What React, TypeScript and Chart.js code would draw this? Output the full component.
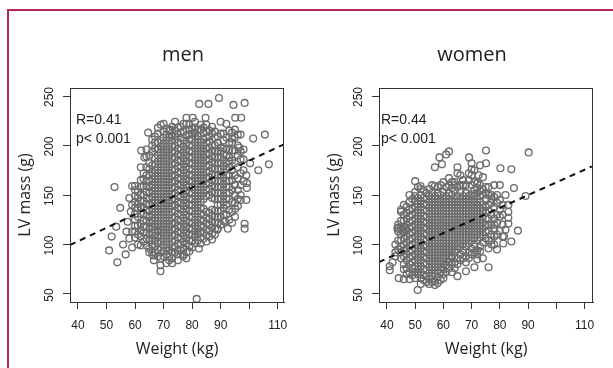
import React, { useEffect, useRef } from "react";
import { Chart, registerables } from "chart.js";
Chart.register(...registerables);

// ---- data ----
const xTicks = [40, 50, 60, 70, 80, 90, 100, 110];
const yTicks = [50, 100, 150, 200, 250];
const xTickHidden = [100];

// each row: weight (kg) followed by LV masses (g) observed at that weight
const menRows: number[][] = [
  [60, 107, 113, 125, 131, 137, 155, 159],
  [61, 100, 119, 128, 137, 141],
  [62, 108, 114, 121, 131, 138, 158],
  [63, 112, 118, 124, 131, 137, 144, 150, 159],
  [64, 106, 112, 118, 124, 129, 135, 141, 147, 153, 159, 164, 170, 189],
  [65, 96, 104, 110, 116, 122, 128, 134, 140, 146, 152, 158, 164, 170, 182],
  [66, 92, 100, 106, 112, 118, 124, 130, 136, 142, 148, 154, 160, 166, 172, 180, 200],
  [67, 98, 104, 109, 115, 121, 127, 133, 139, 145, 151, 157, 163, 169, 175, 181, 187, 197],
  [68, 95, 101, 107, 113, 118, 124, 130, 136, 142, 148, 154, 160, 166, 172, 178, 184, 190, 196, 203, 212],
  [69, 86, 97, 103, 109, 115, 121, 127, 133, 139, 145, 151, 157, 163, 169, 175, 181, 187, 193, 199, 205],
  [70, 93, 100, 106, 112, 118, 124, 130, 136, 142, 148, 154, 160, 166, 172, 178, 184, 190, 196, 202, 208],
  [71, 90, 97, 103, 109, 115, 121, 127, 133, 139, 145, 151, 157, 163, 169, 175, 181, 187, 193, 199, 205, 211],
  [72, 94, 100, 106, 112, 118, 124, 130, 136, 142, 148, 154, 160, 166, 172, 178, 184, 190, 196, 202, 208, 215],
  [73, 92, 97, 103, 109, 115, 121, 127, 133, 139, 145, 151, 157, 163, 169, 175, 181, 187, 193, 199, 205, 210],
  [74, 98, 104, 110, 116, 122, 128, 134, 140, 146, 152, 158, 164, 170, 176, 182, 188, 194, 200, 206, 215],
  [75, 94, 101, 107, 113, 119, 125, 131, 137, 143, 149, 155, 161, 167, 173, 179, 185, 191, 197, 203, 212],
  [76, 100, 106, 112, 118, 124, 130, 136, 142, 148, 154, 160, 166, 172, 178, 184, 190, 196, 202, 208, 219],
  [77, 96, 103, 109, 115, 121, 127, 133, 139, 145, 151, 157, 163, 169, 175, 181, 187, 193, 199, 205, 214],
  [78, 92, 101, 106, 112, 118, 124, 130, 136, 142, 148, 154, 160, 166, 172, 178, 184, 190, 196, 202, 210, 222],
  [79, 98, 104, 110, 116, 122, 128, 134, 140, 146, 152, 158, 164, 170, 176, 182, 188, 194, 200, 206, 216],
  [80, 104, 110, 116, 122, 128, 134, 140, 146, 152, 158, 164, 170, 176, 182, 188, 194, 200, 206, 212],
  [81, 108, 113, 119, 125, 131, 137, 143, 149, 155, 161, 167, 173, 179, 185, 191, 197, 203, 209, 218],
  [82, 111, 116, 122, 128, 134, 140, 146, 152, 158, 164, 170, 176, 182, 188, 194, 200, 206, 210],
  [83, 107, 113, 119, 125, 131, 137, 143, 149, 155, 161, 167, 173, 179, 185, 191, 197, 203, 216],
  [84, 112, 118, 124, 130, 136, 146, 152, 158, 164, 170, 176, 182, 188, 194, 200, 206, 213],
  [85, 109, 115, 121, 127, 133, 149, 155, 161, 167, 173, 179, 185, 191, 197, 203, 208, 221],
  [86, 114, 120, 126, 132, 150, 156, 162, 168, 174, 180, 186, 192, 198, 204],
  [87, 111, 117, 123, 129, 135, 147, 153, 159, 165, 171, 177, 183, 189, 195, 200, 212],
  [88, 116, 122, 128, 134, 146, 152, 158, 164, 170, 176, 182, 188, 194, 200],
  [89, 122, 128, 134, 140, 146, 152, 158, 164, 170, 176, 182, 188, 194, 203],
  [90, 128, 134, 140, 146, 152, 158, 164, 170, 176, 182, 188, 194, 198],
  [91, 130, 137, 143, 149, 155, 161, 167, 173, 179, 185, 191, 197, 212],
  [92, 130, 140, 146, 152, 158, 164, 170, 176, 182, 190, 208],
  [93, 135, 146, 152, 158, 164, 170, 178, 188, 196],
  [94, 133, 143, 155, 165, 175, 185, 203, 213],
  [95, 150, 160, 170, 182, 195, 208],
  [96, 155, 167, 178, 190, 200],
  [97, 160, 172, 186],
  [98, 164, 175],
];

const menExtra: number[][] = [
  [50.9, 94], [53.8, 82], [52.8, 158], [54.8, 137], [51.8, 108], [53.4, 118], [55.8, 100],
  [57, 113], [56.7, 90], [58, 147], [59, 97], [59, 159], [57.4, 123], [58.5, 133], [58, 106],
  [68.9, 73], [68.9, 79], [71, 81], [73, 81], [66.6, 84], [66.4, 89], [75, 90], [76.8, 88], [79, 93],
  [82.4, 96], [81.6, 45], [88.8, 115], [91.5, 123], [95.1, 136], [98.4, 121], [98.4, 116],
  [99.2, 162], [99.2, 157], [100.3, 182], [103.2, 175], [106.9, 181], [101.4, 207], [105.5, 211],
  [89.4, 248], [82.5, 242], [85.7, 242], [94.5, 241], [98.4, 243], [95.1, 228], [97.2, 228],
  [78, 228], [80.2, 228], [84.7, 228], [64.6, 213], [69, 221], [72.3, 216], [62.2, 195],
  [63.3, 188], [88, 208], [92, 222], [90, 224], [86, 215], [74, 224], [97, 211], [96.5, 198],
  [99, 145], [92.5, 116],
];

const menFringe: number[][] = [
  [66, 206], [67, 209], [68, 218], [70, 214], [70, 222], [71, 217], [73, 219], [74, 209], [75, 218],
  [76, 213], [77, 222], [79, 211], [79, 221], [80, 217], [81, 213], [81, 224], [82, 216], [83, 221],
  [84, 218], [85, 214], [86, 209], [87, 219], [88, 214], [89, 209], [90, 212], [91, 205], [93, 203],
  [93, 215], [94, 207], [95, 216], [66, 194], [65, 190], [64, 196], [67, 203],
  [61, 147], [61, 153], [62, 144], [62, 150], [62, 165], [63, 166], [63, 172], [62, 178], [64, 178],
  [65, 176], [63, 103], [62, 99], [64, 99], [61, 110], [60, 119], [59, 113], [60, 143], [60, 149], [59, 140],
  [65, 92], [67, 92], [68, 88], [70, 88], [72, 88], [73, 86], [74, 92], [76, 94], [77, 90], [78, 86],
  [80, 97], [81, 101], [82, 104], [83, 101], [84, 106], [85, 103], [86, 108], [87, 105], [88, 110],
  [89, 116], [90, 120], [91, 124], [72, 84], [75, 84],
  [93, 125], [94, 122], [95, 142], [95, 128], [96, 146], [96, 139], [97, 150], [97, 145], [97, 194],
  [98, 186], [98, 196], [99, 170], [96, 211], [92, 196], [93, 184], [94, 195],
];

const womenRows: number[][] = [
  [44, 95, 113, 117],
  [45, 86, 98, 104, 110, 116, 133],
  [46, 80, 88, 94, 100, 106, 112, 118, 124, 130],
  [47, 76, 84, 90, 96, 102, 108, 114, 120, 126, 132],
  [48, 72, 80, 87, 93, 99, 105, 111, 117, 123, 129, 135, 143],
  [49, 69, 76, 82, 88, 94, 100, 106, 112, 118, 124, 130, 136, 146],
  [50, 66, 72, 78, 84, 90, 96, 102, 108, 114, 120, 126, 132, 138, 144, 149],
  [51, 70, 75, 81, 87, 93, 99, 105, 111, 117, 123, 129, 135, 141, 147, 158],
  [52, 66, 72, 78, 84, 90, 96, 102, 108, 114, 120, 126, 132, 138, 144, 150],
  [53, 64, 69, 75, 81, 87, 93, 99, 105, 111, 117, 123, 129, 135, 141, 147],
  [54, 68, 74, 80, 86, 92, 98, 104, 110, 116, 122, 128, 134, 140, 146, 152],
  [55, 65, 71, 77, 83, 89, 95, 101, 107, 113, 119, 125, 131, 137, 143, 149],
  [56, 68, 74, 80, 86, 92, 98, 104, 110, 116, 122, 128, 134, 140, 146, 152],
  [57, 63, 71, 77, 83, 89, 95, 101, 107, 113, 119, 125, 131, 137, 143, 149, 159],
  [58, 67, 74, 80, 86, 92, 98, 104, 110, 116, 122, 128, 134, 140, 146, 152],
  [59, 71, 77, 83, 89, 95, 101, 107, 113, 119, 125, 131, 137, 143, 150],
  [60, 75, 80, 86, 92, 98, 104, 110, 116, 122, 128, 134, 140, 146, 153],
  [61, 79, 83, 89, 95, 101, 107, 113, 119, 125, 131, 137, 143, 149],
  [62, 82, 86, 92, 98, 104, 110, 116, 122, 128, 134, 140, 146, 152, 160],
  [63, 87, 89, 95, 101, 107, 113, 119, 125, 131, 137, 143, 150],
  [64, 82, 92, 98, 104, 110, 116, 122, 128, 134, 140, 146, 154],
  [65, 86, 95, 101, 107, 113, 119, 125, 131, 137, 143, 149, 158],
  [66, 90, 98, 104, 110, 116, 122, 128, 134, 140, 146, 153],
  [67, 94, 101, 107, 113, 119, 125, 131, 137, 143, 149, 160],
  [68, 88, 98, 104, 110, 116, 122, 128, 134, 140, 146, 152],
  [69, 92, 101, 107, 113, 119, 125, 131, 137, 143, 149, 165],
  [70, 96, 104, 110, 116, 122, 128, 134, 140, 146, 151, 170],
  [71, 100, 107, 113, 119, 125, 131, 137, 143, 149, 155],
  [72, 94, 104, 110, 116, 122, 128, 134, 140, 146, 152, 162],
  [73, 98, 107, 113, 119, 125, 131, 137, 143, 149, 154],
  [74, 102, 110, 116, 122, 128, 134, 140, 150],
  [75, 106, 113, 119, 126, 132, 138, 146, 158],
  [76, 104, 114, 120, 126, 134, 150],
  [77, 110, 120, 130, 142],
  [78, 116, 126, 138, 160],
  [79, 122, 130, 142],
  [80, 114, 128, 160],
  [81, 108, 120],
];

const womenExtra: number[][] = [
  [90.2, 193], [62, 194], [61, 191], [58.6, 188], [75.1, 195], [69.1, 188], [80.2, 177],
  [84.1, 176], [75.1, 182], [70, 182], [70, 176], [57, 178], [59.5, 181], [65, 178], [65, 172],
  [50, 164], [51.9, 159], [85, 157], [89.1, 149], [86.4, 114], [84.1, 103], [81.2, 101],
  [81.5, 108], [83, 140], [83, 133], [83, 127], [83, 121], [76, 77], [71, 77], [68, 73],
  [65, 68], [50.9, 54], [57, 59], [44.2, 66], [46, 65], [41, 78], [41, 74], [43, 88],
  [43.7, 116], [45.5, 114], [46.5, 116], [45, 135], [48, 150], [63, 163], [64, 163],
  [67, 165], [72.5, 170], [73, 180], [68, 152], [78, 108], [79, 95], [74, 86], [72, 85],
  [63, 72], [60, 66],
];

const womenFringe: number[][] = [
  [50, 153], [52, 156], [53, 155], [55, 156], [56, 160], [58, 158], [59, 160], [60, 163], [61, 158],
  [62, 167], [63, 157], [64, 160], [66, 160], [68, 160], [70, 160], [71, 163], [72, 157], [73, 160],
  [74, 156], [75, 152], [76, 158], [77, 150], [78, 148], [66, 170], [69, 172], [71, 175], [74, 168],
  [43, 92], [43, 100], [44, 104], [45, 92], [44, 120], [45, 124], [46, 140], [47, 138], [47, 70],
  [48, 65], [46, 75], [42, 82],
  [52, 60], [54, 62], [55, 60], [56, 62], [58, 61], [59, 64], [60, 70], [61, 72], [62, 76], [63, 80],
  [64, 76], [65, 80], [66, 84], [67, 86], [68, 82], [69, 86], [70, 90], [71, 92], [72, 90], [73, 93],
  [76, 96], [77, 100], [77, 104], [78, 120], [79, 110], [80, 135], [80, 145], [81, 130], [82, 115],
  [81, 140], [79, 150], [82, 150], [78, 100], [76, 140], [77, 146],
];

const lineX = [37.2, 112.6];
const menLineY = [99.5, 201.8];
const womenLineY = [82.3, 178.8];
const menStats = ["R=0.41", "p< 0.001"];
const womenStats = ["R=0.44", "p< 0.001"];

const TICK_FONT = "'Liberation Sans', Arial, sans-serif";
const LABEL_FONT = "'Open Sans', 'Liberation Sans', sans-serif";

function toPoints(rows: number[][], extra: number[][][]) {
  const pts: { x: number; y: number }[] = [];
  rows.forEach((r) => {
    for (let i = 1; i < r.length; i++) pts.push({ x: r[0], y: r[i] });
  });
  extra.forEach((list) => list.forEach(([x, y]) => pts.push({ x, y })));
  return pts;
}

type PanelProps = {
  left: number;
  width: number;
  yAxisWidth: number;
  padRight: number;
  xMin: number;
  xMax: number;
  title: string;
  titleX: number;
  rows: number[][];
  extra: number[][][];
  lineY: number[];
  stats: string[];
  statsDX: number;
};

function Panel(p: PanelProps) {
  const ref = useRef<HTMLCanvasElement | null>(null);
  useEffect(() => {
    if (!ref.current) return;
    const textPlugin = {
      id: "rtext",
      afterDraw(chart: any) {
        const ctx = chart.ctx as CanvasRenderingContext2D;
        const ca = chart.chartArea;
        const ys = chart.scales.y;
        ctx.save();
        // box
        ctx.strokeStyle = "#333";
        ctx.lineWidth = 1;
        ctx.strokeRect(Math.round(ca.left) + 0.5, Math.round(ca.top) + 0.5, Math.round(ca.right - ca.left) - 1, Math.round(ca.bottom - ca.top));
        ctx.fillStyle = "#222";
        // title
        ctx.font = `20px ${LABEL_FONT}`;
        ctx.textAlign = "center";
        ctx.textBaseline = "middle";
        ctx.fillText(p.title, p.titleX - p.left, 55);
        // x axis title
        ctx.font = `16px ${LABEL_FONT}`;
        ctx.fillText("Weight (kg)", (ca.left + ca.right) / 2, 349);
        // y axis title
        ctx.save();
        ctx.translate(ca.left - 45, (ca.top + ca.bottom) / 2);
        ctx.rotate(-Math.PI / 2);
        ctx.fillText("LV mass (g)", 0, 0);
        ctx.restore();
        // y tick labels
        ctx.font = `12px ${TICK_FONT}`;
        yTicks.forEach((v) => {
          ctx.save();
          ctx.translate(ca.left - 20, ys.getPixelForValue(v) + 1);
          ctx.rotate(-Math.PI / 2);
          ctx.fillText(String(v), 0, 0);
          ctx.restore();
        });
        // stats
        ctx.font = `14px ${TICK_FONT}`;
        ctx.textAlign = "left";
        ctx.textBaseline = "alphabetic";
        ctx.fillText(p.stats[0], ca.left + p.statsDX, 123.5);
        ctx.fillText(p.stats[1], ca.left + p.statsDX, 143);
        ctx.restore();
      },
    };
    const chart = new Chart(ref.current, {
      type: "scatter",
      data: {
        datasets: [
          {
            type: "line",
            data: lineX.map((x, i) => ({ x, y: p.lineY[i] })),
            borderColor: "#111",
            borderWidth: 2,
            borderDash: [6, 5],
            pointRadius: 0,
            showLine: true,
            fill: false,
          } as any,
          {
            data: toPoints(p.rows, p.extra),
            pointStyle: "circle",
            pointRadius: 3.4,
            borderWidth: 1.35,
            borderColor: "#6c6c6c",
            backgroundColor: "rgba(0,0,0,0)",
          },
        ],
      },
      options: {
        responsive: false,
        animation: false,
        devicePixelRatio: 1,
        events: [],
        layout: { padding: { top: 88, right: p.padRight, left: 0, bottom: 0 } },
        plugins: { legend: { display: false }, tooltip: { enabled: false }, title: { display: false } },
        scales: {
          x: {
            type: "linear",
            min: p.xMin,
            max: p.xMax,
            afterBuildTicks: (s: any) => {
              s.ticks = xTicks.map((v) => ({ value: v }));
            },
            afterFit: (s: any) => {
              s.height = 66;
            },
            grid: { drawOnChartArea: false, drawTicks: true, tickLength: 7, color: "#333", lineWidth: 1 },
            border: { display: true, color: "#333", width: 1 },
            ticks: {
              font: { family: TICK_FONT, size: 12 },
              color: "#222",
              padding: 9,
              maxRotation: 0,
              autoSkip: false,
              callback: (v: any) => (xTickHidden.includes(Number(v)) ? "" : String(v)),
            },
          },
          y: {
            type: "linear",
            min: 41.9,
            max: 258.1,
            afterBuildTicks: (s: any) => {
              s.ticks = yTicks.map((v) => ({ value: v }));
            },
            afterFit: (s: any) => {
              s.width = p.yAxisWidth;
            },
            grid: { drawOnChartArea: false, drawTicks: true, tickLength: 7, color: "#333", lineWidth: 1 },
            border: { display: true, color: "#333", width: 1 },
            ticks: { display: false },
          },
        },
      },
      plugins: [textPlugin],
    } as any);
    return () => chart.destroy();
  }, []);
  return (
    <canvas
      ref={ref}
      width={p.width}
      height={368}
      style={{ position: "absolute", left: p.left, top: 0, width: p.width, height: 368 }}
    />
  );
}

export default function App() {
  return (
    <div style={{ position: "fixed", left: 0, top: 0, width: 613, height: 368, overflow: "hidden", background: "#fff" }}>
      <div
        style={{
          position: "absolute",
          left: 7,
          top: 9,
          right: 0,
          bottom: 0,
          borderTop: "2px solid #b3284e",
          borderLeft: "2px solid #b3284e",
        }}
      />
      <Panel
        left={0}
        width={300}
        yAxisWidth={70}
        padRight={16}
        xMin={37.2}
        xMax={112.2}
        title="men"
        titleX={183}
        rows={menRows}
        extra={[menExtra, menFringe]}
        lineY={menLineY}
        stats={menStats}
        statsDX={6}
      />
      <Panel
        left={306}
        width={307}
        yAxisWidth={73}
        padRight={20}
        xMin={37.2}
        xMax={113.0}
        title="women"
        titleX={472}
        rows={womenRows}
        extra={[womenExtra, womenFringe]}
        lineY={womenLineY}
        stats={womenStats}
        statsDX={2}
      />
    </div>
  );
}
